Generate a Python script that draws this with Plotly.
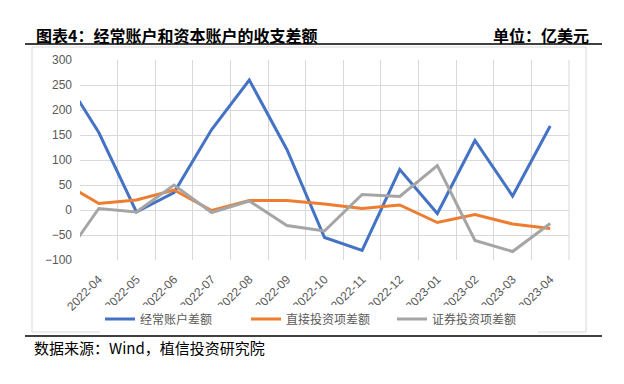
import plotly.graph_objects as go

# 2022-03 is only partially visible at the left edge of the reference
months = ["2022-03", "2022-04", "2022-05", "2022-06", "2022-07", "2022-08", "2022-09",
          "2022-10", "2022-11", "2022-12", "2023-01", "2023-02", "2023-03", "2023-04"]
current_account = [275, 155, -4, 35, 161, 260, 121, -55, -81, 81, -7, 139, 28, 168]
fdi_balance = [57, 13, 20, 40, -1, 19, 19, 12, 3, 10, -25, -9, -28, -37]
portfolio_balance = [-104, 3, -4, 50, -5, 18, -31, -42, 31, 27, 89, -61, -83, -27]

names = ["经常账户差额", "直接投资项差额", "证券投资项差额"]
colors = ["#4472C4", "#ED7D31", "#A5A5A5"]

W, H = 624, 384
L, R, T, B = 80, 569, 60, 260


def px(x):
    return (x - L) / (R - L)


def py(y):
    return (B - y) / (B - T)


fig = go.Figure()
for name, vals, c in zip(names, [current_account, fdi_balance, portfolio_balance], colors):
    fig.add_trace(go.Scatter(x=months, y=vals, name=name, mode="lines",
                             line=dict(color=c, width=3), cliponaxis=True))

fig.update_layout(
    width=W, height=H,
    margin=dict(l=L, r=W - R, t=T, b=H - B),
    plot_bgcolor="white", paper_bgcolor="white",
    font=dict(family="Liberation Sans, Arial, Noto Sans CJK SC", color="#595959"),
    showlegend=True,
    legend=dict(orientation="h", x=px(100), xanchor="left", y=py(319), yanchor="middle",
                font=dict(size=12, color="#595959", family="Noto Sans CJK SC"),
                itemwidth=30, tracegroupgap=0, entrywidth=101, entrywidthmode="pixels"),
)
fig.update_xaxes(type="category", categoryorder="array", categoryarray=months,
                 range=[0.5, 13.5], tickson="boundaries", showgrid=True,
                 gridcolor="#D9D9D9", gridwidth=1, ticks="", tickangle=-45,
                 tickfont=dict(size=12, color="#595959"), showline=False,
                 zeroline=False, ticklabelstandoff=9)
fig.update_yaxes(range=[-100, 300], dtick=50, showgrid=True, gridcolor="#D9D9D9",
                 gridwidth=1, zeroline=False, tickfont=dict(size=12, color="#595959"),
                 ticks="", ticklabelstandoff=7)

shapes = [
    # chart area border
    dict(type="rect", xref="paper", yref="paper", x0=px(32), x1=px(586), y0=py(332), y1=py(47),
         line=dict(color="#D9D9D9", width=1), layer="below"),
    # right edge of plot grid
    dict(type="line", xref="paper", yref="paper", x0=1, x1=1, y0=0, y1=1,
         line=dict(color="#D9D9D9", width=1), layer="below"),
    # header / footer rules
    dict(type="line", xref="paper", yref="paper", x0=px(25), x1=px(602), y0=py(44), y1=py(44),
         line=dict(color="black", width=1.5)),
    dict(type="line", xref="paper", yref="paper", x0=px(25), x1=px(602), y0=py(336), y1=py(336),
         line=dict(color="black", width=1.5)),
]
fig.update_layout(shapes=shapes)

fig.add_annotation(text="<b>图表4：经常账户和资本账户的收支差额</b>", xref="paper", yref="paper",
                   x=px(34), y=py(35), xanchor="left", yanchor="middle", showarrow=False,
                   font=dict(size=16, color="black", family="Noto Sans CJK SC"))
fig.add_annotation(text="<b>单位：亿美元</b>", xref="paper", yref="paper",
                   x=px(591), y=py(35), xanchor="right", yanchor="middle", showarrow=False,
                   font=dict(size=16, color="black", family="Noto Sans CJK SC"))
fig.add_annotation(text="数据来源：Wind，植信投资研究院", xref="paper", yref="paper",
                   x=px(32), y=py(347), xanchor="left", yanchor="middle", showarrow=False,
                   font=dict(size=15, color="black", family="Noto Sans CJK SC"))

fig.write_html("out.html", config={"displayModeBar": False},
               post_script="document.body.style.margin='0px';")
